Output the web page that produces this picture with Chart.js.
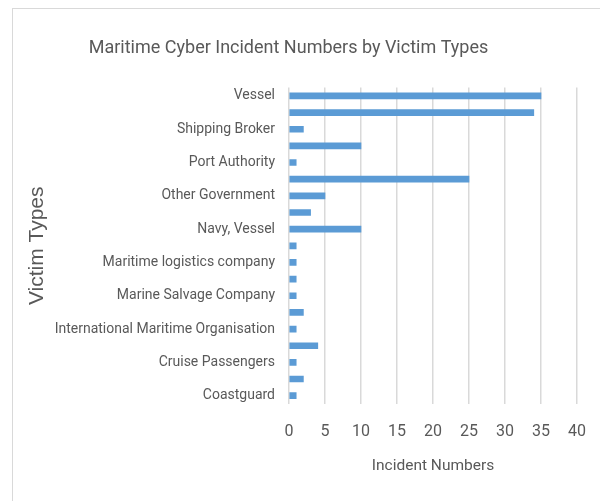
<!DOCTYPE html>
<html lang="en">
<head>
    <meta charset="UTF-8">
    <title>Maritime Cyber Incident Numbers by Victim Types</title>
    <script src="https://cdn.jsdelivr.net/npm/chart.js"></script>
    <style>
        body {
            margin: 0;
            background: #ffffff;
        }
        .frame {
            position: relative;
            width: 600px;
            height: 501px;
        }
        /* thin grey chart border, only top and left edges are on the page */
        .frame .edge {
            position: absolute;
            left: 12px;
            top: 8px;
            right: 0;
            bottom: 0;
            border-left: 1.5px solid #d9d9d9;
            border-top: 1.5px solid #d9d9d9;
        }
        canvas {
            position: absolute;
            left: 0;
            top: 0;
        }
    </style>
</head>
<body>
    <div class="frame">
        <div class="edge"></div>
        <canvas id="victimChart" width="600" height="501"></canvas>
    </div>

    <script>
        // Victim types, listed from the top bar down
        const victimTypes = [
            'Vessel',
            'Shipping Company',
            'Shipping Broker',
            'Port Facility',
            'Port Authority',
            'Passenger Ship',
            'Other Government',
            'Offshore Platform',
            'Navy, Vessel',
            'Military',
            'Maritime logistics company',
            'Maritime Authority',
            'Marine Salvage Company',
            'Law Enforcement',
            'International Maritime Organisation',
            'Government',
            'Cruise Passengers',
            'Container Terminal',
            'Coastguard'
        ];

        const incidentNumbers = [35, 34, 2, 10, 1, 25, 5, 3, 10, 1, 1, 1, 1, 2, 1, 4, 1, 2, 1];

        const xTickValues = [0, 5, 10, 15, 20, 25, 30, 35, 40];

        const labelFont = "Roboto, 'Open Sans', sans-serif";
        const textGrey = '#595959';

        new Chart(document.getElementById('victimChart'), {
            type: 'bar',
            data: {
                labels: victimTypes,
                datasets: [{
                    label: 'Incident Numbers',
                    data: incidentNumbers,
                    backgroundColor: '#5b9bd5',
                    borderWidth: 0,
                    barThickness: 6
                }]
            },
            options: {
                indexAxis: 'y',
                responsive: false,
                animation: false,
                layout: {
                    padding: { left: 0, right: 23, top: 0, bottom: 0 }
                },
                plugins: {
                    legend: { display: false },
                    tooltip: { enabled: false },
                    title: {
                        display: true,
                        text: 'Maritime Cyber Incident Numbers by Victim Types',
                        color: textGrey,
                        font: { family: labelFont, size: 18, weight: 'normal' },
                        padding: { top: 38, bottom: 28 }
                    }
                },
                scales: {
                    x: {
                        min: 0,
                        max: 40,
                        afterBuildTicks: axis => {
                            axis.ticks = xTickValues.map(v => ({ value: v }));
                        },
                        afterFit: axis => {
                            axis.height = 97;
                            // let the "40" label hang past the plot edge
                            axis.paddingLeft = 0;
                            axis.paddingRight = 0;
                        },
                        grid: {
                            color: '#d9d9d9',
                            lineWidth: 1.5,
                            drawTicks: false
                        },
                        border: { display: false },
                        ticks: {
                            color: textGrey,
                            padding: 18,
                            font: { family: labelFont, size: 16 }
                        },
                        title: {
                            display: true,
                            text: 'Incident Numbers',
                            color: textGrey,
                            font: { family: labelFont, size: 15.5 },
                            padding: { top: 4, bottom: 26 }
                        }
                    },
                    y: {
                        afterFit: axis => { axis.width = 289; },
                        grid: { display: false, drawTicks: false },
                        border: { display: false },
                        ticks: {
                            autoSkip: false,
                            color: textGrey,
                            padding: 14,
                            font: { family: labelFont, size: 14 },
                            // only every second victim type gets a label
                            callback: function (value, index) {
                                return index % 2 === 0 ? this.getLabelForValue(value) : '';
                            }
                        },
                        title: {
                            display: true,
                            text: 'Victim Types',
                            color: textGrey,
                            font: { family: "'Liberation Sans', Arial, sans-serif", size: 21 },
                            padding: { top: 25, bottom: 0 }
                        }
                    }
                }
            }
        });
    </script>
</body>
</html>
